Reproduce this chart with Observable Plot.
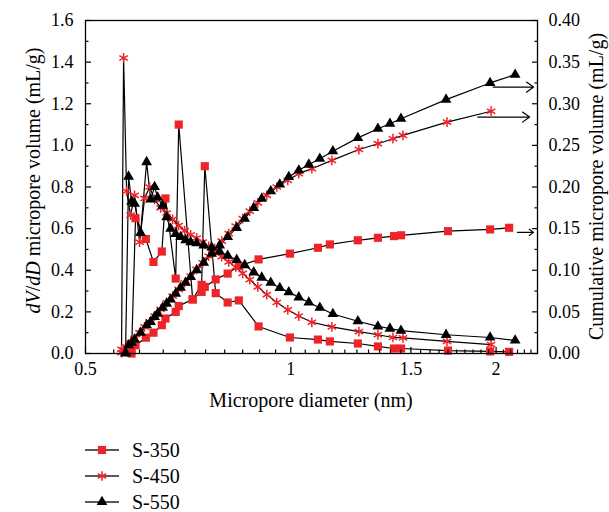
<!DOCTYPE html>
<html><head><meta charset="utf-8">
<script src="https://cdn.jsdelivr.net/npm/d3@7"></script>
<script src="https://cdn.jsdelivr.net/npm/@observablehq/plot@0.6"></script>
<style>
body{margin:0;background:#fff;font-family:"Liberation Serif",serif;color:#000;}
#chart svg, #chart svg text, #legend, #legend span{font-family:"Liberation Serif",serif !important;}
#legend{padding-top:12px;}
.row{display:flex;align-items:center;height:26px;font-size:20px;line-height:20px;}
.row svg{margin-left:84px;margin-right:12px;}
</style></head><body>
<div id="chart"></div>
<div id="legend"></div>
<script>
// ---------- data ----------
const seriesNames = ["S-350", "S-450", "S-550"];

const d350 = [0.584,0.592,0.613,0.629,0.647,0.655,0.678,0.685,0.718,0.740,0.748,0.776,0.808,0.839,0.897,0.997,1.096,1.141,1.254,1.342,1.417,1.451,1.700,1.960,2.090];
const dv350 = [0.00,0.65,0.55,0.44,0.49,0.745,0.36,1.10,0.26,0.33,0.90,0.29,0.245,0.255,0.13,0.077,0.067,0.058,0.048,0.034,0.024,0.024,0.014,0.010,0.008];
const cum350 = [0.004,0.010,0.019,0.025,0.034,0.042,0.050,0.057,0.065,0.074,0.080,0.089,0.096,0.105,0.113,0.120,0.127,0.131,0.136,0.139,0.141,0.142,0.147,0.149,0.151];

const d450 = [0.5647,0.5686,0.5744,0.5822,0.5901,0.6002,0.6104,0.6208,0.6314,0.6444,0.6576,0.6710,0.6847,0.6988,0.7131,0.7277,0.7427,0.7579,0.7734,0.7919,0.8109,0.8303,0.8502,0.8706,0.8944,0.9221,0.9538,0.9899,1.0274,1.0736,1.1487,1.2585,1.3419,1.4118,1.4604,1.6946,1.9664];
const dv450 = [0.02,1.42,0.78,0.665,0.76,0.535,0.745,0.80,0.74,0.70,0.675,0.645,0.615,0.59,0.57,0.555,0.535,0.515,0.49,0.465,0.44,0.415,0.385,0.355,0.32,0.283,0.245,0.21,0.18,0.15,0.128,0.105,0.09,0.077,0.075,0.058,0.043];
const cum450 = [0.001,0.004,0.008,0.013,0.018,0.025,0.032,0.038,0.045,0.053,0.061,0.069,0.077,0.085,0.093,0.101,0.109,0.117,0.126,0.135,0.144,0.153,0.162,0.171,0.181,0.190,0.200,0.208,0.216,0.222,0.232,0.245,0.252,0.258,0.262,0.278,0.291];

const d550 = [0.5724,0.5783,0.5842,0.5901,0.6022,0.6146,0.6229,0.6314,0.6378,0.6487,0.6576,0.6665,0.6779,0.6894,0.7012,0.7131,0.7277,0.7452,0.7656,0.7866,0.8081,0.8331,0.8560,0.8824,0.9066,0.9346,0.9635,0.9932,1.0274,1.0628,1.1030,1.1526,1.2542,1.3419,1.3976,1.4505,1.6890,1.9597,2.1326];
const dv550 = [0.00,0.85,0.73,0.72,0.58,0.92,0.74,0.80,0.75,0.71,0.655,0.60,0.575,0.56,0.545,0.535,0.53,0.52,0.51,0.49,0.47,0.45,0.425,0.39,0.365,0.34,0.315,0.295,0.27,0.245,0.22,0.19,0.155,0.13,0.12,0.11,0.09,0.077,0.063];
const cum550 = [0.001,0.010,0.013,0.017,0.025,0.034,0.038,0.044,0.048,0.055,0.060,0.065,0.072,0.079,0.085,0.092,0.100,0.109,0.120,0.130,0.140,0.151,0.162,0.175,0.186,0.195,0.203,0.212,0.220,0.227,0.234,0.243,0.259,0.270,0.276,0.282,0.305,0.325,0.335];

// arrows pointing at the right axis (cumulative units)
const arrowSeries = ["S-350", "S-450", "S-550"];
const arrowFrom = [2.15, 1.88, 1.98];
const arrowTo = [2.27, 2.24, 2.27];
const arrowCum = [0.1455, 0.284, 0.320];

// axes
const xTicks = [0.5, 1, 1.5, 2];
const xTickLabels = ["0.5", "1", "1.5", "2"];
const yTicks = [0, 0.2, 0.4, 0.6, 0.8, 1.0, 1.2, 1.4, 1.6];
const yTickLabels = ["0.0", "0.2", "0.4", "0.6", "0.8", "1.0", "1.2", "1.4", "1.6"];
const yMinor = [0.1, 0.3, 0.5, 0.7, 0.9, 1.1, 1.3, 1.5];
const rightTickLabels = ["0.00", "0.05", "0.10", "0.15", "0.20", "0.25", "0.30", "0.35", "0.40"];
const cumFactor = 4; // right axis 0.40 aligns with left axis 1.6

const RED = "#ee2428";

// ---------- build tables ----------
function table(name, d, dv, cum) { return d.map((x, i) => ({series: name, d: x, dv: dv[i], cum: cum[i]})); }
const t350 = table("S-350", d350, dv350, cum350);
const t450 = table("S-450", d450, dv450, cum450);
const t550 = table("S-550", d550, dv550, cum550);
const arrows = arrowSeries.map((s, i) => ({series: s, x1: arrowFrom[i], x2: arrowTo[i], cum: arrowCum[i]}));

const xMinor = d3.range(0.55, 2.3, 0.05).map(v => +v.toFixed(2)).filter(v => !xTicks.includes(v));
const cumY = r => r.cum * cumFactor;

const W = 609, H = 425, mL = 85, mR = 72, mT = 20, mB = 72;
const lineOpts = {stroke: "black", strokeWidth: 1.2};
const FF = "Liberation Serif, serif";

const chart = Plot.plot({
  width: W, height: H,
  marginLeft: mL, marginRight: mR, marginTop: mT, marginBottom: mB,
  style: {fontFamily: FF, fontSize: "18px", color: "black", background: "white"},
  x: {type: "log", domain: [0.5, 2.3]},
  y: {domain: [0, 1.6]},
  marks: [
    // lines
    Plot.line(t350, {x: "d", y: "dv", ...lineOpts}),
    Plot.line(t350, {x: "d", y: cumY, ...lineOpts}),
    Plot.line(t450, {x: "d", y: "dv", ...lineOpts}),
    Plot.line(t450, {x: "d", y: cumY, ...lineOpts}),
    Plot.line(t550, {x: "d", y: "dv", ...lineOpts}),
    Plot.line(t550, {x: "d", y: cumY, ...lineOpts}),
    // markers
    Plot.dot(t350, {x: "d", y: "dv", symbol: "square", r: 4.6, fill: RED, stroke: "none"}),
    Plot.dot(t350, {x: "d", y: cumY, symbol: "square", r: 4.6, fill: RED, stroke: "none"}),
    Plot.dot(t450, {x: "d", y: "dv", symbol: "asterisk", r: 4.6, fill: "none", stroke: RED, strokeWidth: 1.5}),
    Plot.dot(t450, {x: "d", y: cumY, symbol: "asterisk", r: 4.6, fill: "none", stroke: RED, strokeWidth: 1.5}),
    Plot.dot(t550, {x: "d", y: "dv", symbol: "triangle", r: 4, fill: "black", stroke: "none"}),
    Plot.dot(t550, {x: "d", y: cumY, symbol: "triangle", r: 4, fill: "black", stroke: "none"}),
    // arrows
    Plot.arrow(arrows, {x1: "x1", x2: "x2", y1: cumY, y2: cumY, stroke: "black", strokeWidth: 1.2, headLength: 11, headAngle: 70}),
    // frame
    Plot.frame({stroke: "black", strokeWidth: 1.3}),
    // x axis
    Plot.axisX({ticks: xTicks, tickSize: 0, tickPadding: 9, tickFormat: d => xTickLabels[xTicks.indexOf(d)], label: null, fontFamily: FF}),
    Plot.axisX({ticks: xTicks, tickSize: -6, fill: "none", label: null, strokeWidth: 1.2}),
    Plot.axisX({ticks: xMinor, tickSize: -3.5, fill: "none", label: null, strokeWidth: 1.2}),
    // left y axis
    Plot.axisY({ticks: yTicks, tickSize: 0, tickPadding: 12, tickFormat: d => yTickLabels[yTicks.indexOf(d)], label: null, fontFamily: FF}),
    Plot.axisY({ticks: yTicks, tickSize: -6, fill: "none", label: null, strokeWidth: 1.2}),
    Plot.axisY({ticks: yMinor, tickSize: -3.5, fill: "none", label: null, strokeWidth: 1.2}),
    // right y axis (cumulative)
    Plot.axisY({anchor: "right", ticks: yTicks, tickSize: 0, tickPadding: 11, tickFormat: d => rightTickLabels[yTicks.indexOf(d)], label: null, fontFamily: FF}),
    Plot.axisY({anchor: "right", ticks: yTicks, tickSize: -6, fill: "none", label: null, strokeWidth: 1.2}),
    Plot.axisY({anchor: "right", ticks: yMinor, tickSize: -3.5, fill: "none", label: null, strokeWidth: 1.2})
  ]
});
document.getElementById("chart").appendChild(chart);

// axis titles
const svg = d3.select(chart);
svg.append("text").attr("x", (mL + W - mR) / 2).attr("y", 407)
  .attr("text-anchor", "middle").attr("font-size", 20).attr("font-family", FF).attr("fill", "black")
  .text("Micropore diameter (nm)");
const lt = svg.append("text").attr("transform", `translate(40,${(mT + H - mB) / 2 - 6}) rotate(-90)`)
  .attr("text-anchor", "middle").attr("font-size", 20).attr("font-family", FF).attr("fill", "black");
lt.append("tspan").attr("font-style", "italic").text("dV");
lt.append("tspan").text("/");
lt.append("tspan").attr("font-style", "italic").text("dD");
lt.append("tspan").text(" micropore volume (mL/g)");
svg.append("text").attr("transform", `translate(603,${(mT + H - mB) / 2}) rotate(-90)`)
  .attr("text-anchor", "middle").attr("font-size", 20).attr("font-family", FF).attr("fill", "black")
  .text("Cumulative micropore volume (mL/g)");

// legend
const legend = d3.select("#legend");
const legendSymbols = [d3.symbolSquare, d3.symbolAsterisk, d3.symbolTriangle];
const legendR = [4.6, 4.6, 4];
seriesNames.forEach((name, i) => {
  const row = legend.append("div").attr("class", "row");
  const s = row.append("svg").attr("width", 36).attr("height", 20);
  s.append("line").attr("x1", 1).attr("x2", 35).attr("y1", 10).attr("y2", 10).attr("stroke", "#222").attr("stroke-width", 1.5);
  const p = s.append("path").attr("transform", "translate(18,10)")
    .attr("d", d3.symbol(legendSymbols[i], Math.PI * legendR[i] * legendR[i])());
  if (i === 0) p.attr("fill", RED);
  else if (i === 1) p.attr("fill", "none").attr("stroke", RED).attr("stroke-width", 1.5);
  else p.attr("fill", "black");
  row.append("span").text(name);
});
</script>
</body></html>
